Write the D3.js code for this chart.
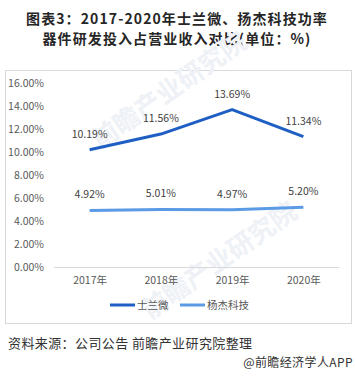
<!DOCTYPE html>
<html>
<head>
<meta charset="utf-8">
<script src="https://cdn.jsdelivr.net/npm/d3@7"></script>
<style>
  body { margin: 0; background: #fff; }
  svg text { font-family: "Microsoft YaHei", "Noto Sans CJK SC", sans-serif; }
</style>
</head>
<body>
<div id="chart"></div>
<script>
const years = ['2017年', '2018年', '2019年', '2020年']
const silan = [10.19, 11.56, 13.69, 11.34]
const yangjie = [4.92, 5.01, 4.97, 5.20]
const seriesNames = ['士兰微', '杨杰科技']
const yTicks = [0, 2, 4, 6, 8, 10, 12, 14, 16]
const titleLines = ['图表3：2017-2020年士兰微、扬杰科技功率', '器件研发投入占营业收入对比(单位：%)']

const width = 355, height = 377
const colors = ['#1f5fc4', '#5b9be6']

const svg = d3.select('#chart').append('svg')
    .attr('width', width)
    .attr('height', height)

// title
svg.append('g')
    .attr('fill', '#262626').attr('font-weight', 'bold')
    .attr('font-size', 14).attr('letter-spacing', 1.1).attr('text-anchor', 'middle')
    .selectAll('text').data(titleLines).join('text')
    .attr('x', 177)
    .attr('y', (d, i) => 23.5 + i * 20.5)
    .text(d => d)

// frame
svg.append('rect')
    .attr('x', 5.5).attr('y', 70.5)
    .attr('width', 346).attr('height', 253)
    .attr('fill', 'none').attr('stroke', '#d9d9d9')

// watermark
const wm = svg.append('g').attr('fill', '#eef1f6').attr('font-weight', 'bold')
wm.append('text').attr('transform', 'translate(100,150) rotate(-35)')
    .attr('font-size', 26).text('前瞻产业研究院')
wm.append('text').attr('transform', 'translate(150,320) rotate(-35)')
    .attr('font-size', 26).text('前瞻产业研究院')

const x = d3.scalePoint().domain(years).range([54, 339]).padding(0.5)
const y = d3.scaleLinear().domain([0, 16]).range([267, 83])

// y axis labels
svg.append('g').selectAll('text').data(yTicks).join('text')
    .attr('x', 44).attr('y', d => y(d)).attr('dy', '0.35em')
    .attr('text-anchor', 'end').attr('font-size', 10.5).attr('fill', '#595959')
    .text(d => d.toFixed(2) + '%')

// x axis
const xAxisG = svg.append('g').attr('transform', `translate(0,${y(0)})`)
    .call(d3.axisBottom(x).tickSize(0).tickPadding(10))
xAxisG.select('.domain').attr('stroke', '#d9d9d9').attr('d', 'M54,0.5H339')
xAxisG.selectAll('text').attr('font-size', 10.5).attr('fill', '#595959')
    .attr('font-family', '"Microsoft YaHei", "Noto Sans CJK SC", sans-serif')

const data = [silan, yangjie]
const line = d3.line().x((d, i) => x(years[i])).y(d => y(d))

data.forEach((vals, k) => {
    svg.append('path')
        .attr('d', line(vals))
        .attr('fill', 'none')
        .attr('stroke', colors[k])
        .attr('stroke-width', 3)
        .attr('stroke-linejoin', 'round')
    svg.append('g').selectAll('text').data(vals).join('text')
        .attr('x', (d, i) => x(years[i]))
        .attr('y', d => y(d) - 12)
        .attr('text-anchor', 'middle').attr('font-size', 10.5).attr('fill', '#404040')
        .text(d => d.toFixed(2) + '%')
})

// legend
const legendX = [110, 180]
const legendG = svg.append('g')
seriesNames.forEach((name, k) => {
    legendG.append('line')
        .attr('x1', legendX[k]).attr('x2', legendX[k] + 25)
        .attr('y1', 305).attr('y2', 305)
        .attr('stroke', colors[k]).attr('stroke-width', 3)
    legendG.append('text')
        .attr('x', legendX[k] + 27).attr('y', 305).attr('dy', '0.35em')
        .attr('font-size', 10.5).attr('fill', '#595959')
        .text(name)
})

// source + credit
svg.append('text').attr('x', 8).attr('y', 348)
    .attr('font-size', 13).attr('fill', '#333').attr('letter-spacing', 0.4)
    .text('资料来源：公司公告 前瞻产业研究院整理')
svg.append('text').attr('x', 353).attr('y', 367).attr('text-anchor', 'end')
    .attr('font-size', 12).attr('fill', '#333').attr('letter-spacing', 0.4)
    .text('@前瞻经济学人APP')
</script>
</body>
</html>
